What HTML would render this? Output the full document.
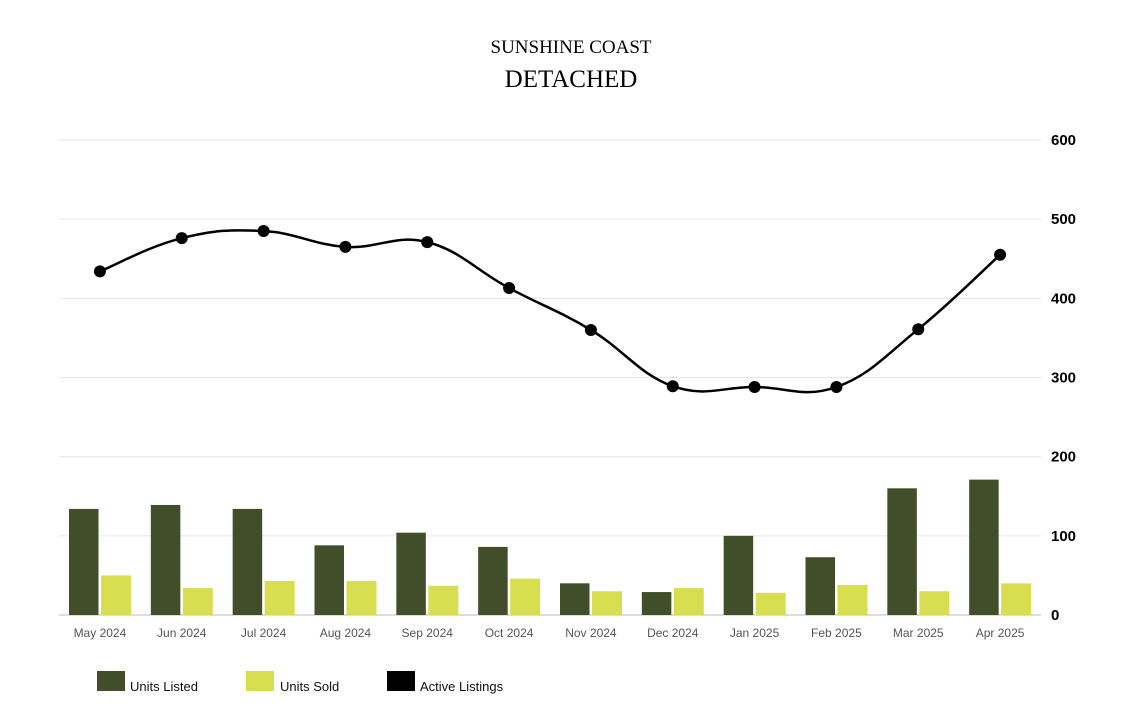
<!DOCTYPE html>
<html><head><meta charset="utf-8">
<style>
body{margin:0;background:#fff;}
svg{display:block;font-family:"Liberation Sans",sans-serif;}
</style></head>
<body>
<svg id="chart" width="1143" height="719">
<text x="571" y="53" text-anchor="middle" font-family="Liberation Serif,serif" font-size="19" fill="#000">SUNSHINE COAST</text>
<text x="571" y="87" text-anchor="middle" font-family="Liberation Serif,serif" font-size="25" fill="#000">DETACHED</text>
<g id="grid"></g><g id="bars"></g><g id="line"></g><g id="xlabels"></g>
<g>
<rect x="97" y="671" width="28" height="20" fill="#424d29"/>
<text x="130" y="691" font-size="13" fill="#111">Units Listed</text>
<rect x="246" y="671" width="28" height="20" fill="#d7de50"/>
<text x="280" y="691" font-size="13" fill="#111">Units Sold</text>
<rect x="387" y="671" width="28" height="20" fill="#000"/>
<text x="420" y="691" font-size="13" fill="#111">Active Listings</text>
</g>
</svg>
<script>
const categories=["May 2024","Jun 2024","Jul 2024","Aug 2024","Sep 2024","Oct 2024","Nov 2024","Dec 2024","Jan 2025","Feb 2025","Mar 2025","Apr 2025"];
const unitsListed=[134,139,134,88,104,86,40,29,100,73,160,171];
const unitsSold=[50,34,43,43,37,46,30,34,28,38,30,40];
const activeListings=[434,476,485,465,471,413,360,289,288,288,361,455];
const yTicks=[0,100,200,300,400,500,600];
const NS="http://www.w3.org/2000/svg";
const L=59,R=1041,Y0=615,Y1=140,YMAX=600;
const band=(R-L)/categories.length;
const y=v=>Y0-(v/YMAX)*(Y0-Y1);
const xc=i=>L+band*i+band/2;
function mk(t,a,p){const e=document.createElementNS(NS,t);for(const k in a)e.setAttribute(k,a[k]);p.appendChild(e);return e;}
const grid=document.getElementById('grid');
yTicks.forEach(v=>{
 const l=mk('line',{x1:L,x2:R,y1:y(v),y2:y(v),stroke:v===0?'#bbb':'#e6e6e6','stroke-width':1},grid);
 
 
 const t=mk('text',{x:1051,y:y(v)+5,'font-size':15,'font-weight':'bold',fill:'#000'},grid);
 t.textContent=v;
 
 
});
const bars=document.getElementById('bars');
categories.forEach((c,i)=>{
 const x0=L+band*i;
 const b1=mk('rect',{x:x0+10,y:y(unitsListed[i]),width:29.5,height:Y0-y(unitsListed[i]),fill:'#424d29'},bars);
 
 
 const b2=mk('rect',{x:x0+42,y:y(unitsSold[i]),width:30,height:Y0-y(unitsSold[i]),fill:'#d7de50'},bars);
 
 
 const t=mk('text',{x:xc(i),y:637,'text-anchor':'middle','font-size':12,fill:'#555'},document.getElementById('xlabels'));
 t.textContent=c;
 
 
});
const pts=activeListings.map((v,i)=>[xc(i),y(v)]);
let d=`M${pts[0][0]},${pts[0][1]}`;
for(let i=0;i<pts.length-1;i++){
 const p0=pts[Math.max(0,i-1)],p1=pts[i],p2=pts[i+1],p3=pts[Math.min(pts.length-1,i+2)];
 const t=0.2;
 const c1=[p1[0]+(p2[0]-p0[0])*t,p1[1]+(p2[1]-p0[1])*t];
 const c2=[p2[0]-(p3[0]-p1[0])*t,p2[1]-(p3[1]-p1[1])*t];
 d+=` C${c1[0]},${c1[1]} ${c2[0]},${c2[1]} ${p2[0]},${p2[1]}`;
}
const lg=document.getElementById('line');
const path=mk('path',{d:d,fill:'none',stroke:'#000','stroke-width':2.5},lg);


pts.forEach(p=>{
 const c=mk('circle',{cx:p[0],cy:p[1],r:6,fill:'#000'},lg);
 
 
});
</script>
</body></html>
